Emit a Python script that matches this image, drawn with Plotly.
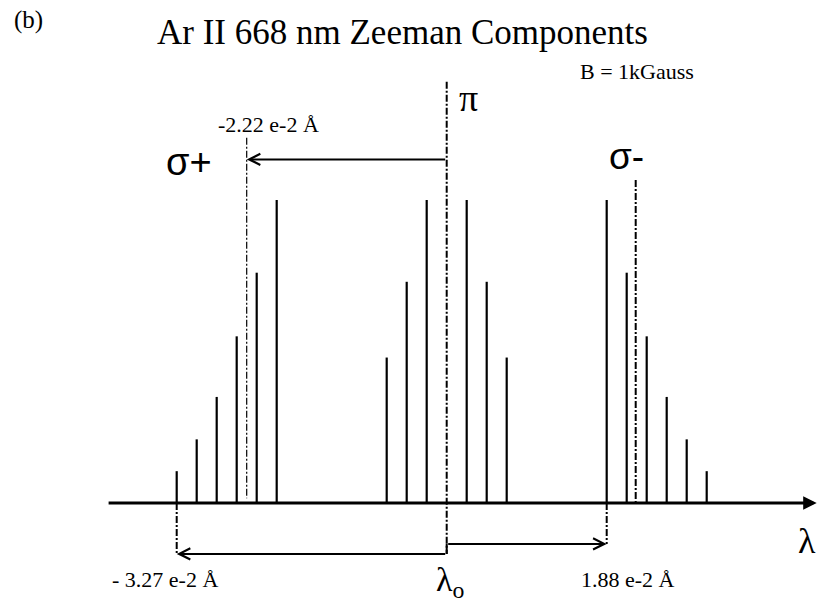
import plotly.graph_objects as go

# ---- data (schematic units: x = relative shift, lambda_o at 0; y = relative intensity) ----
sigma_plus_pos = [-13.5, -12.5, -11.5, -10.5, -9.5, -8.5]
sigma_plus_int = [10.5, 21, 35, 55, 76, 100]
pi_pos = [-3, -2, -1, 1, 2, 3]
pi_int = [48, 73, 100, 100, 73, 48]
sigma_minus_pos = [8, 9, 10, 11, 12, 13]
sigma_minus_int = [100, 76, 55, 35, 21, 10.5]

sigma_plus_center = -10.0
sigma_minus_center = 9.45
lambda0 = 0.0

shift_labels = ["-2.22 e-2 Å", "- 3.27 e-2 Å", "1.88 e-2 Å"]
title_text = "Ar II 668 nm Zeeman Components"

# ---- helpers ----
def sticks(xs, hs):
    X, Y = [], []
    for x, h in zip(xs, hs):
        X += [x, x, None]
        Y += [0, h, None]
    return X, Y

fig = go.Figure()
black = "#000000"

allx = sigma_plus_pos + pi_pos + sigma_minus_pos
ally = sigma_plus_int + pi_int + sigma_minus_int
X, Y = sticks(allx, ally)
fig.add_trace(go.Scatter(x=X, y=Y, mode="lines", line=dict(color=black, width=2.2),
                         hoverinfo="skip", showlegend=False))

# dash-dot guide lines
y_top_pi = 139
y_low_left = -16.8
y_low_right = -13.5
y_top_arrow = 113.4
dd = "7px,2px,2px,2px"
def vline(x, y0, y1, w, dash=dd):
    fig.add_trace(go.Scatter(x=[x, x], y=[y0, y1], mode="lines",
                             line=dict(color=black, width=w, dash=dash),
                             hoverinfo="skip", showlegend=False))

vline(lambda0, y_top_pi, y_low_left, 2)
vline(sigma_plus_center, 120.5, 1.6, 1.2)
vline(sigma_minus_center, 106.6, 0, 2)
vline(sigma_plus_pos[0], 0, y_low_left, 2)
vline(sigma_minus_pos[0], 0, y_low_right, 2)
vline(lambda0, y_low_right, y_low_left, 2, "solid")

anns = []
def arrow(x, y, ax, ay, head, width, size):
    anns.append(dict(x=x, y=y, ax=ax, ay=ay, xref="x", yref="y", axref="x", ayref="y",
                     text="", showarrow=True, arrowhead=head, arrowwidth=width,
                     arrowsize=size, arrowcolor=black, standoff=0, startstandoff=0))

# wavelength axis
arrow(18.5, 0, -16.98, 0, 2, 3, 0.9)
# shift arrows
arrow(sigma_plus_center, y_top_arrow, lambda0, y_top_arrow, 5, 2, 1.1)
arrow(sigma_plus_pos[0], y_low_left, lambda0, y_low_left, 5, 2, 1.1)
arrow(sigma_minus_pos[0], y_low_right, lambda0, y_low_right, 5, 2, 1.1)

serif = "Liberation Serif, Times New Roman, serif"
sans = "Liberation Sans, Arial, sans-serif"
def text(x, y, s, size, fam=serif, xanchor="center"):
    anns.append(dict(x=x, y=y, xref="x", yref="y", text=s, showarrow=False,
                     font=dict(family=fam, size=size, color=black),
                     xanchor=xanchor, yanchor="middle"))

text(-2.2, 155.4, title_text, 35)
text(-20.9, 159.5, "(b)", 25)
text(9.5, 142.3, "B = 1kGauss", 22)
text(1.07, 133.5, "π", 38)
text(-12.9, 112.5, "σ+", 38, sans)
text(9.0, 114.2, "σ-", 37, sans)
text(-8.9, 124.8, shift_labels[0], 22)
text(-14.1, -25.3, shift_labels[1], 22)
text(9.07, -25.3, shift_labels[2], 22)
text(0.15, -26.0, "λ<sub>o</sub>", 34)
text(17.45, -12.5, "λ", 36, xanchor="left")

fig.update_layout(
    width=817, height=606,
    margin=dict(l=0, r=0, t=0, b=0),
    paper_bgcolor="white", plot_bgcolor="white",
    xaxis=dict(range=[-22.335, 18.515], visible=False, fixedrange=True),
    yaxis=dict(range=[-34.0, 166.0], visible=False, fixedrange=True),
    annotations=anns,
    showlegend=False,
)
fig.write_html("out.html")
